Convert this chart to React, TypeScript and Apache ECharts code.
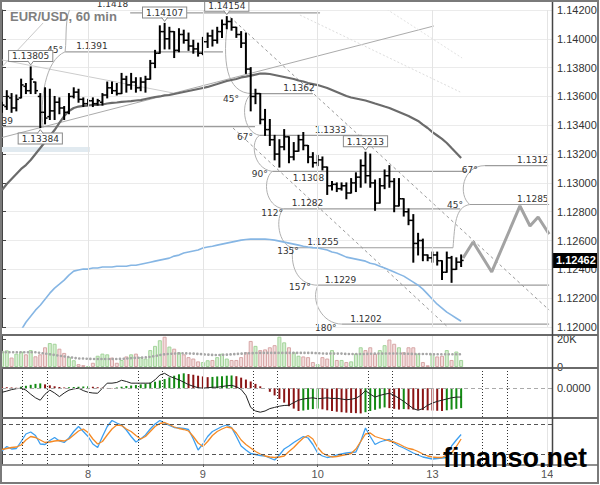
import React, { useEffect, useRef } from 'react';
import * as echarts from 'echarts';

const TITLE = 'EUR/USD, 60 min';
const WATERMARK = 'finanso.net';
const LAST_PRICE = 1.12462;

const dayTicks = [
  { index: 18, label: '8' },
  { index: 42, label: '9' },
  { index: 66, label: '10' },
  { index: 90, label: '13' },
  { index: 114, label: '14' },
];
const sessionMarks = [4.2, 9.4, 28.4, 33.5, 52.5, 57.5, 76.5, 81.5, 100.4, 105.6];

const opens = [
  1.1351, 1.1353, 1.1359, 1.1352, 1.1359, 1.1367, 1.1364, 1.1370, 1.1360, 1.1349,
  1.1346, 1.1350, 1.1356, 1.1352, 1.1349, 1.1360, 1.1363, 1.1358, 1.1355, 1.1357,
  1.1355, 1.1356, 1.1361, 1.1366, 1.1364, 1.1362, 1.1372, 1.1368, 1.1370, 1.1366,
  1.1370, 1.1372, 1.1383, 1.1390, 1.1405, 1.1400, 1.1405, 1.1392, 1.1403, 1.1399,
  1.1395, 1.1393, 1.1390, 1.1398, 1.1402, 1.1399, 1.1405, 1.1410, 1.1412, 1.1408,
  1.1403, 1.1397, 1.1379, 1.1360, 1.1362, 1.1344, 1.1337, 1.1330, 1.1320, 1.1325,
  1.1332, 1.1318, 1.1322, 1.1330, 1.1326, 1.1318, 1.1314, 1.1316, 1.1311, 1.1298,
  1.1299, 1.1296, 1.1298, 1.1293, 1.1300, 1.1304, 1.1312, 1.1305, 1.1300, 1.1286,
  1.1298, 1.1305, 1.1301, 1.1284, 1.1289, 1.1280, 1.1274, 1.1258, 1.1260, 1.1250,
  1.1248, 1.1250, 1.1246, 1.1238, 1.1248, 1.1240, 1.1245,
];
const highs = [
  1.1356, 1.1364, 1.1362, 1.1361, 1.1372, 1.1369, 1.13805, 1.1370, 1.1362, 1.1366,
  1.1365, 1.1360, 1.1359, 1.1353, 1.1362, 1.1366, 1.1365, 1.1359, 1.1358, 1.1359,
  1.1358, 1.1362, 1.1370, 1.1370, 1.1369, 1.1376, 1.1374, 1.1376, 1.1373, 1.1373,
  1.1374, 1.1385, 1.1392, 1.1409, 1.14107, 1.1408, 1.1405, 1.1407, 1.1406, 1.1404,
  1.1399, 1.1397, 1.1401, 1.1404, 1.1406, 1.1408, 1.1413, 1.14154, 1.1414, 1.1408,
  1.1405, 1.1404, 1.1380, 1.1365, 1.1362, 1.1351, 1.1344, 1.1333, 1.1330, 1.1337,
  1.1332, 1.1328, 1.1333, 1.1335, 1.1326, 1.1321, 1.1319, 1.1318, 1.1311, 1.1301,
  1.1300, 1.1300, 1.1300, 1.1303, 1.1307, 1.1316, 1.13213, 1.1320, 1.1302, 1.1303,
  1.1309, 1.1312, 1.1303, 1.1303, 1.1289, 1.1282, 1.1278, 1.1265, 1.1261, 1.1250,
  1.1252, 1.1252, 1.1246, 1.1252, 1.1249, 1.1248, 1.1250,
];
const lows = [
  1.1349, 1.1351, 1.1349, 1.1350, 1.1359, 1.1362, 1.1362, 1.1362, 1.13384, 1.1341,
  1.1344, 1.1344, 1.1348, 1.1344, 1.1348, 1.1359, 1.1356, 1.1353, 1.1354, 1.1353,
  1.1354, 1.1354, 1.1359, 1.1362, 1.1361, 1.1362, 1.1363, 1.1365, 1.1363, 1.1364,
  1.1363, 1.1372, 1.1380, 1.1390, 1.1393, 1.1393, 1.1387, 1.1391, 1.1397, 1.1392,
  1.1390, 1.1388, 1.1389, 1.1394, 1.1395, 1.1397, 1.1401, 1.1407, 1.1406, 1.1401,
  1.1394, 1.1376, 1.1350, 1.1355, 1.1341, 1.1333, 1.1326, 1.1316, 1.1311, 1.1323,
  1.1314, 1.1316, 1.1322, 1.1323, 1.1314, 1.1311, 1.1312, 1.1309, 1.1292, 1.1295,
  1.1294, 1.1295, 1.1289, 1.1293, 1.1294, 1.1297, 1.1300, 1.1297, 1.1281, 1.1286,
  1.1296, 1.1297, 1.1280, 1.1284, 1.1277, 1.1271, 1.1245, 1.1250, 1.1246, 1.1246,
  1.1245, 1.1243, 1.1233, 1.1238, 1.1231, 1.1240, 1.1242,
];
const closes = [
  1.1354, 1.1360, 1.1352, 1.1358, 1.1368, 1.1364, 1.1372, 1.1364, 1.1349, 1.1345,
  1.1350, 1.1356, 1.1352, 1.1349, 1.1360, 1.1363, 1.1358, 1.1355, 1.1357, 1.1355,
  1.1357, 1.1361, 1.1366, 1.1364, 1.1362, 1.1372, 1.1368, 1.1370, 1.1366, 1.1370,
  1.1372, 1.1383, 1.1390, 1.1405, 1.1400, 1.1405, 1.1392, 1.1403, 1.1399, 1.1395,
  1.1393, 1.1390, 1.1398, 1.1402, 1.1399, 1.1405, 1.1410, 1.1412, 1.1408, 1.1403,
  1.1397, 1.1379, 1.1360, 1.1362, 1.1344, 1.1337, 1.1330, 1.1320, 1.1325, 1.1332,
  1.1318, 1.1322, 1.1330, 1.1326, 1.1318, 1.1314, 1.1316, 1.1311, 1.1298, 1.1299,
  1.1296, 1.1298, 1.1293, 1.1300, 1.1304, 1.1312, 1.1305, 1.1300, 1.1286, 1.1298,
  1.1305, 1.1301, 1.1284, 1.1289, 1.1280, 1.1274, 1.1258, 1.1260, 1.1250, 1.1248,
  1.1250, 1.1246, 1.1238, 1.1248, 1.1240, 1.1245, 1.12462,
];

const maDark = [
  1.12951, 1.12992, 1.13027, 1.13062, 1.13097, 1.13124, 1.13159, 1.13201, 1.13242, 1.13284,
  1.13326, 1.13367, 1.13416, 1.13464, 1.13499, 1.13520, 1.13530, 1.13534, 1.13537, 1.13541,
  1.13541, 1.13544, 1.13551, 1.13555, 1.13558, 1.13562, 1.13565, 1.13568, 1.13572, 1.13575,
  1.13582, 1.13589, 1.13596, 1.13600, 1.13607, 1.13610, 1.13617, 1.13624, 1.13631, 1.13638,
  1.13645, 1.13652, 1.13659, 1.13666, 1.13676, 1.13686, 1.13697, 1.13707, 1.13714, 1.13721,
  1.13732, 1.13738, 1.13745, 1.13752, 1.13759, 1.13759, 1.13756, 1.13749, 1.13742, 1.13735,
  1.13728, 1.13721, 1.13711, 1.13704, 1.13693, 1.13686, 1.13679, 1.13669, 1.13659, 1.13645,
  1.13631, 1.13617, 1.13603, 1.13593, 1.13586, 1.13579, 1.13572, 1.13562, 1.13551, 1.13541,
  1.13530, 1.13520, 1.13506, 1.13492, 1.13478, 1.13464, 1.13447, 1.13430, 1.13405, 1.13381,
  1.13353, 1.13329, 1.13305, 1.13277, 1.13242, 1.13208, 1.13173,
];
const maBlue = [
  null, null, null, 1.11922, 1.11978, 1.12033, 1.12075, 1.12117, 1.12151, 1.12193,
  1.12235, 1.12270, 1.12297, 1.12325, 1.12360, 1.12388, 1.12395, 1.12402, 1.12402, 1.12409,
  1.12409, 1.12416, 1.12416, 1.12416, 1.12422, 1.12422, 1.12422, 1.12429, 1.12429, 1.12436,
  1.12443, 1.12450, 1.12457, 1.12464, 1.12471, 1.12478, 1.12492, 1.12499, 1.12513, 1.12520,
  1.12527, 1.12534, 1.12548, 1.12555, 1.12561, 1.12568, 1.12575, 1.12582, 1.12589, 1.12596,
  1.12603, 1.12607, 1.12610, 1.12610, 1.12610, 1.12610, 1.12607, 1.12603, 1.12596, 1.12589,
  1.12582, 1.12575, 1.12568, 1.12561, 1.12555, 1.12551, 1.12548, 1.12541, 1.12534, 1.12520,
  1.12513, 1.12499, 1.12485, 1.12478, 1.12471, 1.12464, 1.12457, 1.12443, 1.12436, 1.12422,
  1.12409, 1.12395, 1.12381, 1.12367, 1.12353, 1.12332, 1.12311, 1.12290, 1.12263, 1.12228,
  1.12193, 1.12158, 1.12131, 1.12103, 1.12082, 1.12061, 1.12040,
];
const forecast = [
  [96.4, 1.12479], [98.5, 1.1259], [102.4, 1.12382], [108.3, 1.1284],
  [110.4, 1.12701], [112.1, 1.12763], [114.4, 1.12645],
];

const volumes = [
  11400, 11800, 6700, 9500, 11000, 9000, 12000, 7600, 9000, 14000,
  17000, 16500, 13000, 10000, 7000, 4800, 2000, 1300, 500, 3000,
  8000, 9500, 9000, 6700, 3000, 5000, 7500, 9000, 9500, 7000,
  6000, 12000, 15000, 19000, 21500, 14500, 13000, 10500, 9000, 7000,
  6000, 4000, 3500, 4800, 5000, 7000, 9500, 6000, 5000, 5000,
  7000, 10500, 18500, 15000, 12000, 12500, 14000, 15500, 21500, 17500,
  14000, 10500, 8000, 7500, 7000, 3500, 2000, 7000, 6000, 12000,
  5000, 5000, 3500, 4000, 9500, 14000, 12000, 14000, 9500, 12000,
  15500, 19500, 16500, 14000, 10500, 14000, 14000, 9500, 3500, 1200,
  9500, 7500, 8000, 12000, 5000, 11000, 5000,
];
const volumeMA = [
  10500, 10500, 10500, 10500, 10500, 10500, 10500, 10500, 10000, 9500,
  9000, 8500, 8000, 7500, 7000, 6500, 6000, 6000, 5800, 5700,
  5700, 5700, 5700, 5700, 5700, 5800, 6000, 6300, 6500, 6600,
  6800, 7200, 7800, 8500, 9000, 9300, 9500, 9700, 9700, 9600,
  9500, 9300, 9000, 8800, 8600, 8500, 8600, 8800, 9000, 9200,
  9500, 9700, 9800, 9900, 10000, 10000, 10000, 10000, 10000, 10000,
  10000, 10000, 10000, 10000, 10000, 10000, 9800, 9600, 9500, 9500,
  9500, 9500, 9300, 9200, 9200, 9200, 9300, 9400, 9500, 9500,
  9500, 9600, 9600, 9600, 9500, 9400, 9300, 9200, 9200, 9200,
  9100, 9000, 9000, 9000, 9000, 9000, 9000,
];

const macdHist = [
  0.00005, 0.00004, 0.00003, 0.00002, 0.00006, 0.0001, 0.00014, 0.00018, 0.0002, 0.00016,
  0.00012, 0.00008, 0.00005, 0.00003, 0.00004, 0.00005, 0.00006, 0.00007, 0.00008, 0.00006,
  0.00004, 0.00002, 0.00001, 0.000005, 0.00003, 0.00006, 0.00009, 0.00011, 0.00013, 0.00016,
  0.00019, 0.00023, 0.00027, 0.00032, 0.00038, 0.00045, 0.00052, 0.00058, 0.00062, 0.00059,
  0.00056, 0.00052, 0.00049, 0.00046, 0.00047, 0.00049, 0.0005, 0.00052, 0.00053, 0.0005,
  0.00044, 0.00036, 0.00028, 0.00018, 0.00008, 0, -0.00015, -0.0003, -0.00045, -0.0006,
  -0.00075, -0.00085, -0.00095, -0.00093, -0.0009, -0.00087, -0.00085, -0.00088, -0.00092, -0.00095,
  -0.00098, -0.001, -0.00102, -0.00103, -0.00104, -0.00105, -0.001, -0.00095, -0.0009, -0.00085,
  -0.0008, -0.00083, -0.00086, -0.00089, -0.00087, -0.00088, -0.00089, -0.0009, -0.00091, -0.00092,
  -0.00093, -0.00094, -0.00095, -0.00092, -0.00089, -0.00086, -0.00083,
];
const macdMain = [
  -0.00017, -0.00012, -0.00006, -0.00002, 0, -0.00008, -0.00025, -0.0004, -0.0005, -0.00025,
  -0.00008, -0.0002, -0.00035, -0.0002, -0.00008, -0.00003, 0, -0.0001, -0.00017, -0.0002,
  -0.00021, 0, 0.00021, 0.00021, 0.00024, 0.00033, 0.00028, 0.00021, 0.00021, 0.00021,
  0.00021, 0.00021, 0.00035, 0.00055, 0.00062, 0.0005, 0.00042, 0.00035, 0.00025, 0.00015,
  0.00008, 0.00002, 0, 0.00002, 0.00004, 0.00004, 0.00007, 0.0001, 0.00012, 0.00006,
  -0.00005, -0.0003, -0.0008, -0.00095, -0.001, -0.00095, -0.00085, -0.0008, -0.00075, -0.00072,
  -0.00071, -0.0006, -0.0005, -0.00045, -0.00042, -0.0004, -0.00044, -0.00042, -0.0004, -0.00043,
  -0.00042, -0.00045, -0.00048, -0.00046, -0.00042, -0.0003, -0.0001, -0.00025, -0.00037, -0.0003,
  -0.00025, -0.00021, -0.0003, -0.00042, -0.00055, -0.0007, -0.00085, -0.00092, -0.00085, -0.00071,
  -0.00062, -0.00055, -0.0005, -0.00045, -0.0004, -0.00037, -0.00037,
];
const macdLevels = [0.0002, -0.0004];

const stochMain = [
  26, 35, 30, 31, 45, 60, 64, 57, 40, 39,
  47, 53, 46, 43, 52, 65, 75, 65, 55, 40,
  33, 55, 75, 87, 82, 78, 68, 55, 44, 50,
  58, 70, 80, 87, 82, 77, 73, 72, 71, 69,
  50, 28, 40, 55, 65, 70, 75, 78, 73, 55,
  36, 28, 21, 19, 17, 16, 12, 8, 18, 30,
  36, 43, 49, 55, 52, 39, 22, 16, 13, 15,
  18, 20, 22, 23, 24, 45, 72, 55, 39, 44,
  47, 49, 42, 36, 32, 27, 22, 18, 14, 12,
  10, 11, 12, 13, 36, 48, 59,
];
const stochSignal = [
  29, 31, 33, 34, 38, 48, 55, 53, 48, 43,
  44, 46, 47, 46, 50, 58, 66, 70, 63, 50,
  40, 45, 58, 70, 78, 77, 70, 65, 57, 50,
  55, 65, 75, 81, 83, 79, 74, 71, 69, 66,
  55, 42, 35, 45, 57, 65, 70, 74, 72, 62,
  48, 39, 32, 25, 20, 16, 14, 13, 14, 16,
  25, 33, 43, 52, 57, 50, 33, 22, 17, 14,
  15, 17, 19, 21, 30, 45, 60, 62, 55, 52,
  49, 46, 44, 40, 35, 31, 29, 25, 20, 16,
  14, 13, 13, 18, 22, 35, 50,
];
const stochLevels = [80, 20];

// drawing-tool annotations, in (bar index, price) units
const levels = [
  { price: 1.1418, k1: 26.8, k2: 66.5, labelK: 26.4, align: 'right', pos: 'high' },
  { price: 1.1391, k1: 13.2, k2: 46.2, labelK: 15.5, align: 'left', pos: 'above' },
  { price: 1.1339, k1: 0, k2: 52.9, labelK: 2.3, align: 'right', pos: 'above' },
  { price: 1.1362, k1: 52.3, k2: 65.0, labelK: 58.8, align: 'left', pos: 'above' },
  { price: 1.1333, k1: 53.9, k2: 75.3, labelK: 65.4, align: 'left', pos: 'above' },
  { price: 1.1308, k1: 56.5, k2: 97.2, labelK: 60.8, align: 'left', pos: 'below' },
  { price: 1.1282, k1: 58.8, k2: 95.8, labelK: 60.6, align: 'left', pos: 'above' },
  { price: 1.1255, k1: 60.8, k2: 94.3, labelK: 63.8, align: 'left', pos: 'above' },
  { price: 1.1229, k1: 66.1, k2: 114.4, labelK: 67.5, align: 'left', pos: 'above' },
  { price: 1.1202, k1: 71.1, k2: 114.4, labelK: 72.8, align: 'left', pos: 'above' },
  { price: 1.1312, k1: 101.0, k2: 114.2, labelK: 107.7, align: 'left', pos: 'above' },
  { price: 1.1285, k1: 97.8, k2: 114.4, labelK: 107.7, align: 'left', pos: 'above' },
];
const priceBoxes = [
  { k: 6, price: 1.13805, pos: 'above' },
  { k: 8, price: 1.13384, pos: 'below' },
  { k: 34, price: 1.14107, pos: 'above' },
  { k: 47, price: 1.14154, pos: 'above' },
  { k: 76, price: 1.13213, pos: 'above' },
];
const angleLabels = [
  { k: 11.1, price: 1.13922, text: '45°' },
  { k: 47.9, price: 1.13582, text: '45°' },
  { k: 50.8, price: 1.13319, text: '67°' },
  { k: 53.9, price: 1.13062, text: '90°' },
  { k: 56.5, price: 1.12791, text: '112°' },
  { k: 59.8, price: 1.12527, text: '135°' },
  { k: 62.3, price: 1.12278, text: '157°' },
  { k: 67.7, price: 1.11993, text: '180°' },
  { k: 94.7, price: 1.12847, text: '45°' },
  { k: 97.8, price: 1.1309, text: '67°' },
];
const arcs = [
  [47.25, 1.14131, 46.0, 1.13853, 46.8, 1.1362, 52.3, 1.1362],
  [52.3, 1.1362, 49.8, 1.13575, 50.2, 1.1335, 53.9, 1.1333],
  [53.9, 1.1333, 51.9, 1.13298, 52.3, 1.131, 56.5, 1.1308],
  [56.5, 1.1308, 54.4, 1.1302, 55.0, 1.1284, 58.8, 1.1282],
  [58.8, 1.1282, 57.1, 1.12756, 57.7, 1.1257, 60.8, 1.1255],
  [60.8, 1.1255, 60.2, 1.12396, 62.3, 1.1229, 66.1, 1.1229],
  [66.1, 1.1229, 64.4, 1.12187, 66.9, 1.1202, 71.1, 1.1202],
  [94.3, 1.1255, 94.7, 1.12708, 94.7, 1.12833, 97.8, 1.1285],
  [97.8, 1.1285, 95.3, 1.12916, 96.2, 1.1312, 101.0, 1.1312],
  [13.2, 1.1391, 9.0, 1.13853, 7.9, 1.13575, 8.6, 1.13384],
  [13.2, 1.1391, 13.6, 1.14027, 13.0, 1.14144, 14.6, 1.14235],
];
const trendLines = [
  { k1: 0, p1: 1.13315, k2: 90.3, p2: 1.14089, color: '#ababab', dash: null },
  { k1: 0, p1: 1.13853, k2: 35.8, p2: 1.13624, color: '#cccccc', dash: null },
  { k1: 0, p1: 1.13806, k2: 8.6, p2: 1.1411, color: '#c8c8c8', dash: null },
  { k1: 47.7, p1: 1.14151, k2: 114.4, p2: 1.12118, color: '#9a9a9a', dash: [3, 3] },
  { k1: 48.3, p1: 1.13381, k2: 96.8, p2: 1.11889, color: '#9a9a9a', dash: [3, 3] },
  { k1: 62.3, p1: 1.14165, k2: 95.8, p2: 1.13631, color: '#dddddd', dash: [2, 2] },
  { k1: 78.4, p1: 1.14249, k2: 96.2, p2: 1.13867, color: '#e2e2e2', dash: [2, 2] },
];
const band = { k1: 0, k2: 18.4, p1: 1.13249, p2: 1.13214 };

const FONT_SMALL = '9px "DejaVu Sans"';

function renderAnnotations(params: any, api: any) {
  const P = (k: number, p: number) => api.coord([k, p]);
  const kids: any[] = [];
  const b0 = P(band.k1, band.p1);
  const b1 = P(band.k2, band.p2);
  kids.push({ type: 'rect', shape: { x: b0[0], y: b0[1], width: b1[0] - b0[0], height: b1[1] - b0[1] }, style: { fill: '#e1eaf0' } });
  trendLines.forEach((t) => {
    const a = P(t.k1, t.p1);
    const b = P(t.k2, t.p2);
    kids.push({ type: 'line', shape: { x1: a[0], y1: a[1], x2: b[0], y2: b[1] }, style: { stroke: t.color, lineWidth: 1, lineDash: t.dash, fill: 'none' } });
  });
  levels.forEach((lv) => {
    const a = P(lv.k1, lv.price);
    const b = P(lv.k2, lv.price);
    kids.push({ type: 'line', shape: { x1: a[0], y1: a[1], x2: b[0], y2: b[1] }, style: { stroke: '#9c9c9c', lineWidth: 1.2, fill: 'none' } });
  });
  arcs.forEach((c) => {
    const p0 = P(c[0], c[1]);
    const c1 = P(c[2], c[3]);
    const c2 = P(c[4], c[5]);
    const p3 = P(c[6], c[7]);
    kids.push({
      type: 'bezierCurve',
      shape: { x1: p0[0], y1: p0[1], cpx1: c1[0], cpy1: c1[1], cpx2: c2[0], cpy2: c2[1], x2: p3[0], y2: p3[1] },
      style: { stroke: '#b0b0b0', lineWidth: 1, fill: 'none' },
    });
  });
  return { type: 'group', children: kids };
}

function renderLabels(params: any, api: any) {
  const P = (k: number, p: number) => api.coord([k, p]);
  const kids: any[] = [];
  levels.forEach((lv) => {
    const pt = P(lv.labelK, lv.price);
    const below = lv.pos === 'below';
    const y = below ? pt[1] + 2 : lv.pos === 'high' ? pt[1] - 4 : pt[1] - 1;
    kids.push({
      type: 'text', x: pt[0], y,
      style: { text: lv.price.toFixed(4), fill: '#333', font: FONT_SMALL, align: lv.align, verticalAlign: below ? 'top' : 'bottom' },
    });
  });
  angleLabels.forEach((a) => {
    const pt = P(a.k, a.price);
    kids.push({ type: 'text', x: pt[0], y: pt[1], style: { text: a.text, fill: '#333', font: FONT_SMALL, align: 'center', verticalAlign: 'middle' } });
  });
  priceBoxes.forEach((b) => {
    const pt = P(b.k, b.price);
    const up = b.pos === 'above';
    const tipY = up ? pt[1] - 2 : pt[1] + 2;
    const edge = up ? tipY - 4 : tipY + 4;
    kids.push({
      type: 'text', x: pt[0], y: edge,
      style: {
        text: b.price.toFixed(5), fill: '#333', font: FONT_SMALL, align: 'center', verticalAlign: up ? 'bottom' : 'top',
        backgroundColor: '#fff', borderColor: '#8a8a8a', borderWidth: 1, padding: [1, 3, 0, 3],
      },
    });
    kids.push({
      type: 'polyline',
      shape: { points: [[pt[0] - 3, edge], [pt[0], tipY], [pt[0] + 3, edge]] },
      style: { stroke: '#8a8a8a', fill: '#fff', lineWidth: 1 },
    });
  });
  return { type: 'group', children: kids };
}

function renderOhlc(params: any, api: any) {
  const i = api.value(0);
  const o = api.coord([i, api.value(1)]);
  const h = api.coord([i, api.value(2)]);
  const l = api.coord([i, api.value(3)]);
  const c = api.coord([i, api.value(4)]);
  const x = h[0];
  return {
    type: 'group',
    children: [
      { type: 'line', shape: { x1: x, y1: h[1] - 0.5, x2: x, y2: l[1] + 0.5 }, style: { stroke: '#000', lineWidth: 2 } },
      { type: 'line', shape: { x1: x - 2.5, y1: o[1], x2: x, y2: o[1] }, style: { stroke: '#000', lineWidth: 1.5 } },
      { type: 'line', shape: { x1: x, y1: c[1], x2: x + 2.5, y2: c[1] }, style: { stroke: '#000', lineWidth: 1.5 } },
    ],
  };
}

function renderTag(params: any, api: any) {
  const pt = api.coord([api.value(0), api.value(1)]);
  const cs = params.coordSys;
  const x = cs.x + cs.width + 1;
  return {
    type: 'group',
    children: [
      { type: 'rect', shape: { x, y: pt[1] - 7.5, width: 44, height: 15 }, style: { fill: '#000' } },
      { type: 'text', x: x + 3, y: pt[1], style: { text: api.value(1).toFixed(5), fill: '#fff', font: 'bold 11px "Liberation Sans"', align: 'left', verticalAlign: 'middle' } },
    ],
  };
}

const dayLabel = (v: number) => {
  const d = dayTicks.find((t) => t.index === v);
  return d ? d.label : '';
};

const dayGridLines = (color: string) =>
  dayTicks.map((d) => ({ xAxis: d.index, lineStyle: { color, type: 'solid', width: 1 } }));
const sessionLines = () =>
  sessionMarks.map((k) => ({ xAxis: k, lineStyle: { color: '#333', type: [1, 2], width: 1 } }));

function buildOption() {
  const grids = [
    { left: 2, width: 550, top: 10, height: 317 },
    { left: 2, width: 550, top: 336, height: 31 },
    { left: 2, width: 550, top: 369, height: 48 },
    { left: 2, width: 550, top: 418, height: 46 },
  ];
  const hiddenX = (i: number) => ({ type: 'value', gridIndex: i, min: 0, max: 115, show: false });
  const up = (i: number) => closes[i] >= opens[i];
  return {
    animation: false,
    backgroundColor: '#fff',
    grid: grids,
    xAxis: [
      hiddenX(0),
      hiddenX(1),
      hiddenX(2),
      {
        type: 'value', gridIndex: 3, min: 0, max: 115, interval: 6,
        axisLine: { show: false },
        splitLine: { show: false },
        axisTick: { show: true, customValues: dayTicks.map((d) => d.index), length: 3, lineStyle: { color: '#555' } },
        axisLabel: { customValues: dayTicks.map((d) => d.index), formatter: (v: number) => dayLabel(v), color: '#555', fontSize: 11, margin: 4, fontFamily: 'Liberation Sans' },
      },
    ],
    yAxis: [
      {
        type: 'value', gridIndex: 0, position: 'right', min: 1.12, max: 1.142, interval: 0.002,
        axisLine: { show: true, lineStyle: { color: '#444' } },
        axisTick: { show: true, length: 4, lineStyle: { color: '#444' } },
        axisLabel: { formatter: (v: number) => v.toFixed(5), color: '#333', fontSize: 11, margin: 5, fontFamily: 'Liberation Sans' },
        splitLine: { show: true, lineStyle: { color: '#ebebeb' } },
      },
      {
        type: 'value', gridIndex: 1, position: 'right', min: 0, max: 22000, interval: 20000,
        axisLine: { show: true, lineStyle: { color: '#444' } },
        axisTick: { show: true, length: 4, lineStyle: { color: '#444' } },
        axisLabel: { formatter: (v: number) => (v === 0 ? '0' : v / 1000 + 'K'), color: '#333', fontSize: 11, margin: 5, fontFamily: 'Liberation Sans' },
        splitLine: { show: false },
      },
      {
        type: 'value', gridIndex: 2, position: 'right', min: -0.0012, max: 0.0008, interval: 0.0004,
        axisLine: { show: true, lineStyle: { color: '#444' } },
        axisTick: { show: false },
        axisLabel: { formatter: (v: number) => (Math.abs(v) < 1e-10 ? '0.0000' : ''), color: '#333', fontSize: 11, margin: 5, fontFamily: 'Liberation Sans' },
        splitLine: { show: false },
      },
      {
        type: 'value', gridIndex: 3, position: 'right', min: 0, max: 92,
        axisLine: { show: true, lineStyle: { color: '#444' } },
        axisTick: { show: false }, axisLabel: { show: false }, splitLine: { show: false },
      },
    ],
    graphic: [
      { type: 'rect', shape: { x: 553, y: 467, width: 44, height: 15 }, style: { fill: '#fff' }, z: 50, silent: true },
      { type: 'rect', shape: { x: 1, y: 1, width: 597, height: 482 }, style: { fill: 'none', stroke: '#7a7a7a', lineWidth: 2 }, z: 90, silent: true },
      { type: 'line', shape: { x1: 2, y1: 335, x2: 598, y2: 335 }, style: { stroke: '#6a6a6a', lineWidth: 2 }, z: 90, silent: true },
      { type: 'line', shape: { x1: 2, y1: 368, x2: 598, y2: 368 }, style: { stroke: '#6a6a6a', lineWidth: 2 }, z: 90, silent: true },
      { type: 'line', shape: { x1: 2, y1: 418, x2: 598, y2: 418 }, style: { stroke: '#6a6a6a', lineWidth: 2 }, z: 90, silent: true },
      { type: 'line', shape: { x1: 2, y1: 465, x2: 598, y2: 465 }, style: { stroke: '#6a6a6a', lineWidth: 1.5 }, z: 90, silent: true },
      { type: 'line', shape: { x1: 552.5, y1: 2, x2: 552.5, y2: 465 }, style: { stroke: '#444', lineWidth: 1.5 }, z: 90, silent: true },
      { type: 'text', x: 10, y: 10, style: { text: TITLE, font: 'bold 13px "Liberation Sans"', fill: '#7f7f7f', verticalAlign: 'top' }, z: 95, silent: true },
      { type: 'text', x: 443, y: 458, style: { text: WATERMARK, font: 'bold 27px "Liberation Sans"', fill: '#000', verticalAlign: 'middle' }, z: 100, silent: true },
    ],
    series: [
      { type: 'custom', name: 'annotations', xAxisIndex: 0, yAxisIndex: 0, renderItem: renderAnnotations, data: [[0, 1.13]], clip: true, silent: true, z: 1 },
      {
        type: 'line', name: 'MA slow', xAxisIndex: 0, yAxisIndex: 0, data: maBlue.map((v, i) => [i, v]),
        showSymbol: false, lineStyle: { color: '#86b6e4', width: 1.6 }, z: 2, silent: true,
        markLine: { silent: true, symbol: ['none', 'none'], label: { show: false }, data: dayGridLines('#e4e4e4') },
      },
      { type: 'line', name: 'MA', xAxisIndex: 0, yAxisIndex: 0, data: maDark.map((v, i) => [i, v]), showSymbol: false, lineStyle: { color: '#6b6b6b', width: 2.2 }, z: 2, silent: true },
      { type: 'line', name: 'forecast', xAxisIndex: 0, yAxisIndex: 0, data: forecast, showSymbol: false, lineStyle: { color: '#a3a3a3', width: 3 }, z: 2, silent: true },
      {
        type: 'custom', name: 'EURUSD', xAxisIndex: 0, yAxisIndex: 0, renderItem: renderOhlc,
        data: opens.map((o, i) => [i, o, highs[i], lows[i], closes[i]]), encode: { x: 0, y: [1, 2, 3, 4] }, clip: true, z: 3,
      },
      { type: 'custom', name: 'labels', xAxisIndex: 0, yAxisIndex: 0, renderItem: renderLabels, data: [[0, 1.13]], clip: false, silent: true, z: 4 },
      { type: 'custom', name: 'tag', xAxisIndex: 0, yAxisIndex: 0, renderItem: renderTag, data: [[closes.length - 1, LAST_PRICE]], clip: false, silent: true, z: 5 },
      {
        type: 'bar', name: 'volume', xAxisIndex: 1, yAxisIndex: 1, barWidth: 4,
        data: volumes.map((v, i) => ({
          value: [i, v],
          itemStyle: up(i) ? { color: '#d6edd1', borderColor: '#a3d49a', borderWidth: 1 } : { color: '#f3dddd', borderColor: '#d7a6a6', borderWidth: 1 },
        })),
        markLine: { silent: true, symbol: ['none', 'none'], label: { show: false }, data: dayGridLines('#e4e4e4') },
      },
      {
        type: 'line', name: 'volume MA', xAxisIndex: 1, yAxisIndex: 1, data: volumeMA.map((v, i) => [i, v]),
        showSymbol: false, lineStyle: { color: '#a6a6a6', width: 2.6, type: [0.1, 3.6], cap: 'round' }, z: 3,
      },
      {
        type: 'bar', name: 'MACD hist', xAxisIndex: 2, yAxisIndex: 2, barWidth: 2,
        data: macdHist.map((v, i) => ({
          value: [i, v],
          itemStyle: { color: i > 0 && v > macdHist[i - 1] ? '#128a12' : '#8a1414' },
        })),
      },
      {
        type: 'line', name: 'MACD', xAxisIndex: 2, yAxisIndex: 2, data: macdMain.map((v, i) => [i, v]),
        showSymbol: false, lineStyle: { color: '#222', width: 1 }, z: 3,
        markLine: {
          silent: true, symbol: ['none', 'none'], label: { show: false },
          data: [
            ...dayGridLines('#e4e4e4'),
            ...macdLevels.map((v) => ({ yAxis: v, lineStyle: { color: '#aaa', type: [4, 3], width: 1 } })),
            ...sessionLines(),
          ],
        },
      },
      {
        type: 'line', name: '%K', xAxisIndex: 3, yAxisIndex: 3, data: stochMain.map((v, i) => [i, v]),
        showSymbol: false, lineStyle: { color: '#3d9ff0', width: 1.3 }, z: 3,
        markLine: {
          silent: true, symbol: ['none', 'none'], label: { show: false },
          data: [
            ...dayGridLines('#e4e4e4'),
            ...stochLevels.map((v) => ({ yAxis: v, lineStyle: { color: '#555', type: [4, 3], width: 1 } })),
            ...sessionLines(),
          ],
        },
      },
      {
        type: 'line', name: '%D', xAxisIndex: 3, yAxisIndex: 3, data: stochSignal.map((v, i) => [i, v]),
        showSymbol: false, lineStyle: { color: '#f58a25', width: 1.3 }, z: 3,
      },
    ],
  };
}

export default function App() {
  const ref = useRef<HTMLDivElement>(null);
  useEffect(() => {
    if (!ref.current) return;
    const chart = echarts.init(ref.current, null, { renderer: 'svg', width: 600, height: 485 });
    chart.setOption(buildOption() as any);
    return () => chart.dispose();
  }, []);
  return <div ref={ref} style={{ position: 'fixed', left: 0, top: 0, width: 600, height: 485, background: '#fff' }} />;
}
